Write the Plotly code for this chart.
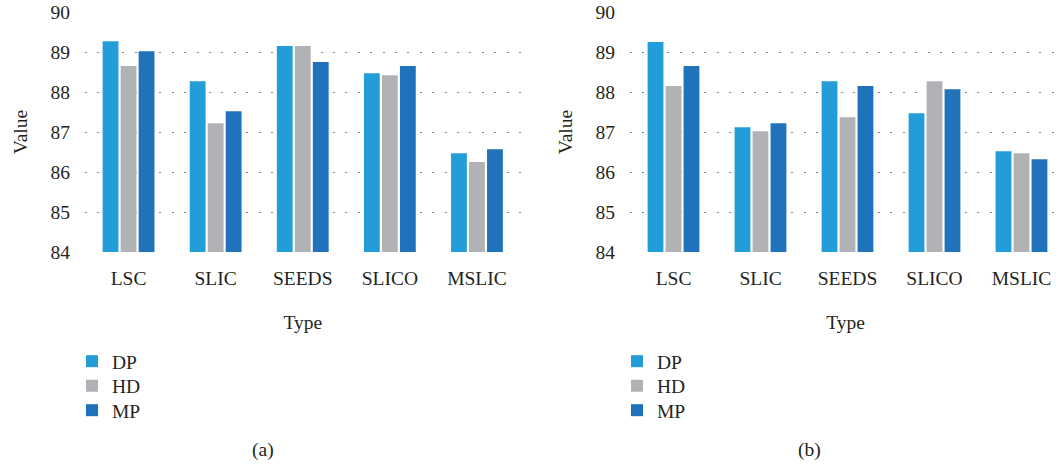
import plotly.graph_objects as go

categories = ["LSC", "SLIC", "SEEDS", "SLICO", "MSLIC"]
series_names = ["DP", "HD", "MP"]
colors = ["#239dd8", "#b1b2b6", "#2073ba"]

a_DP = [89.27, 88.27, 89.15, 88.47, 86.47]
a_HD = [88.65, 87.22, 89.15, 88.42, 86.25]
a_MP = [89.02, 87.52, 88.75, 88.65, 86.57]

b_DP = [89.25, 87.12, 88.27, 87.47, 86.52]
b_HD = [88.15, 87.02, 87.37, 88.27, 86.47]
b_MP = [88.65, 87.22, 88.15, 88.07, 86.32]

y_ticks = [84, 85, 86, 87, 88, 89, 90]
panel_labels = ["(a)", "(b)"]

W, H = 1061, 464
FONT = "Liberation Serif"
TXT = "#231f20"
FS = 19.5

legend_item_y = [361.5, 386, 410.5]
legend_x = [72, 617]

fig = go.Figure()
legend_layouts = {}
for panel, data in enumerate([(a_DP, a_HD, a_MP), (b_DP, b_HD, b_MP)]):
    xa = "x" if panel == 0 else "x2"
    ya = "y" if panel == 0 else "y2"
    for k, (name, vals, col) in enumerate(zip(series_names, data, colors)):
        idx = panel * 3 + k + 1
        lg = "legend" if idx == 1 else f"legend{idx}"
        fig.add_trace(go.Bar(x=categories, y=vals, name=name, marker_color=col,
                             marker_line_width=0, xaxis=xa, yaxis=ya, legend=lg))
        legend_layouts[lg] = dict(
            x=legend_x[panel] / W, y=1 - legend_item_y[k] / H,
            xanchor="left", yanchor="middle",
            font=dict(family=FONT, size=FS, color=TXT),
            bgcolor="rgba(0,0,0,0)", borderwidth=0)

ydom = [(H - 252) / H, (H - 12) / H]
xdom1 = [85 / W, 520.5 / W]
xdom2 = [630 / W, 1.0]

axis_font = dict(family=FONT, size=FS, color=TXT)
common_y = dict(range=[84, 90], tickvals=y_ticks, showgrid=True, gridcolor="#8a8a8a",
                griddash="2px,10.4px", gridwidth=1.3, zeroline=False, showline=False,
                tickfont=axis_font, ticklabelstandoff=14, domain=ydom, automargin=False,
                fixedrange=True,
                title=dict(text="Value", font=axis_font, standoff=17))
common_x = dict(showgrid=False, zeroline=False, showline=False, tickfont=axis_font,
                ticklabelstandoff=12, automargin=False, fixedrange=True,
                title=dict(text="Type", font=axis_font, standoff=27))

fig.update_layout(
    template="none",
    width=W, height=H, margin=dict(l=0, r=0, t=0, b=0, autoexpand=False),
    paper_bgcolor="white", plot_bgcolor="white",
    barmode="group", bargap=0.38, bargroupgap=0.12,
    font=dict(family=FONT, color=TXT),
    xaxis=dict(domain=xdom1, anchor="y", range=[-0.5, 4.5], **common_x),
    xaxis2=dict(domain=xdom2, anchor="y2", range=[-0.5, (1061 - 673.5) / 87], **common_x),
    yaxis=dict(anchor="x", **common_y),
    yaxis2=dict(anchor="x2", **common_y),
    showlegend=True,
    **legend_layouts,
)

for txt, xc in zip(panel_labels, [263, 809]):
    fig.add_annotation(text=txt, x=xc / W, y=1 - 450 / H, xref="paper", yref="paper",
                       showarrow=False, font=dict(family=FONT, size=FS, color=TXT),
                       xanchor="center", yanchor="middle")

fig.write_html("out.html")
